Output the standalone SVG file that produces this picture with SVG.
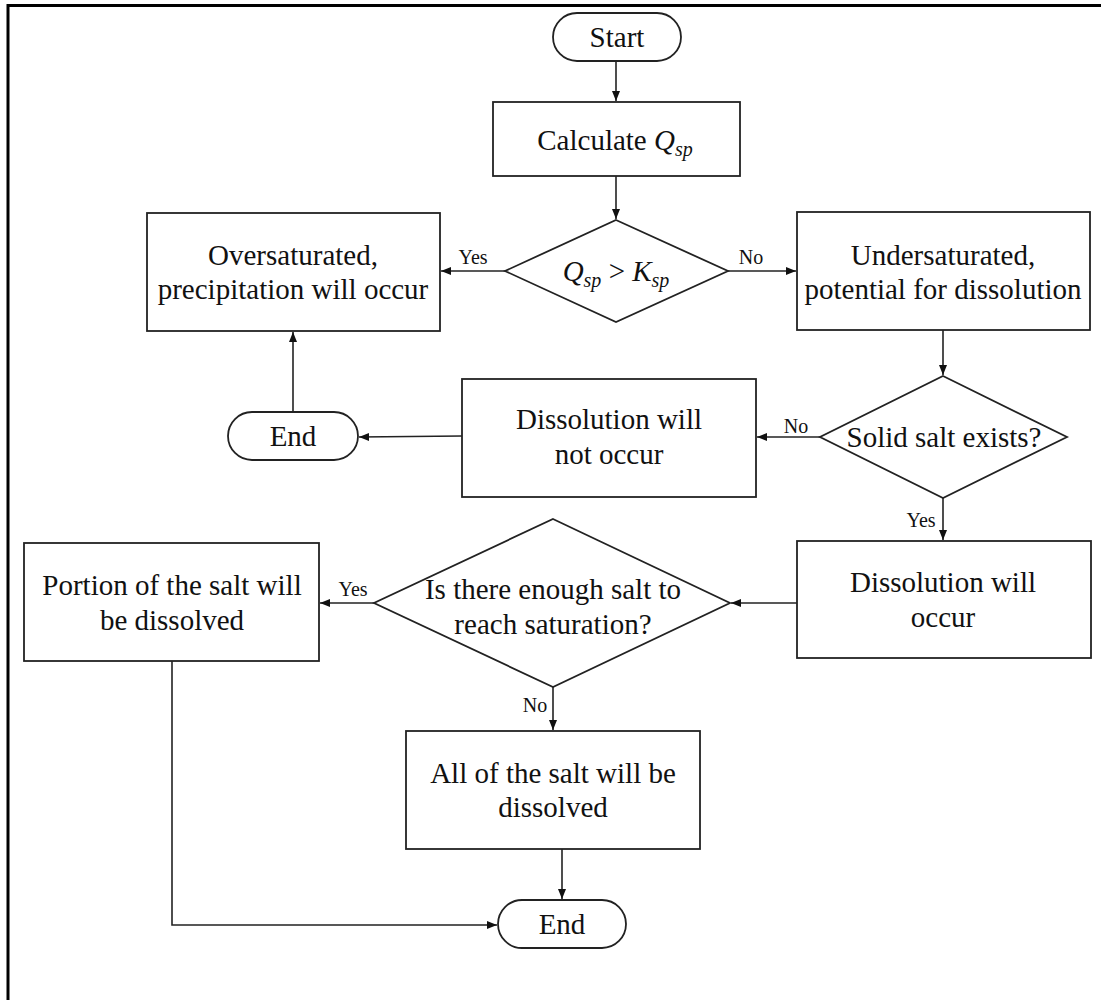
<svg xmlns="http://www.w3.org/2000/svg" width="1101" height="1000" viewBox="0 0 1101 1000">
<defs>
<style>
.box{fill:#fff;stroke:#222;stroke-width:1.8}
.t{font-family:"Liberation Serif","Times New Roman",serif;font-size:29px;fill:#111;text-anchor:middle}
.l{font-family:"Liberation Serif","Times New Roman",serif;font-size:20px;fill:#111;text-anchor:middle}
.c{fill:none;stroke:#222;stroke-width:1.6}
</style>
<marker id="ah" viewBox="0 0 10 10" refX="10" refY="5" markerWidth="10" markerHeight="10" markerUnits="userSpaceOnUse" orient="auto">
<path d="M0,1 L10,5 L0,9 z" fill="#111"/>
</marker>
</defs>
<rect width="1101" height="1000" fill="#fff"/>
<path d="M8,1000 V5.5 H1101" fill="none" stroke="#000" stroke-width="3"/>

<g id="start"><rect class="box" x="553" y="13" width="128" height="48" rx="24"/><text class="t" x="617" y="47">Start</text></g>
<g id="calc"><rect class="box" x="493" y="102" width="247" height="74"/><text class="t" x="615" y="150">Calculate <tspan font-style="italic">Q</tspan><tspan font-style="italic" font-size="20" dy="6">sp</tspan></text></g>
<g id="cmp"><polygon class="box" points="616,220 728,271 616,322 505,271"/><text class="t" x="616" y="281"><tspan font-style="italic">Q</tspan><tspan font-style="italic" font-size="20" dy="6">sp</tspan><tspan dy="-6"> &gt; </tspan><tspan font-style="italic">K</tspan><tspan font-style="italic" font-size="20" dy="6">sp</tspan></text></g>
<g id="over"><rect class="box" x="147" y="213" width="293" height="118"/><text class="t" x="293" y="265">Oversaturated,</text><text class="t" x="293" y="299">precipitation will occur</text></g>
<g id="under"><rect class="box" x="797" y="212" width="293" height="118"/><text class="t" x="943" y="265">Undersaturated,</text><text class="t" x="943" y="299">potential for dissolution</text></g>
<g id="end1"><rect class="box" x="228" y="412" width="130" height="48" rx="24"/><text class="t" x="293" y="446">End</text></g>
<g id="notdis"><rect class="box" x="462" y="379" width="294" height="118"/><text class="t" x="609" y="429">Dissolution will</text><text class="t" x="609" y="464">not occur</text></g>
<g id="solid"><polygon class="box" points="943,376 1067,437 943,498 820,437"/><text class="t" x="944" y="447">Solid salt exists?</text></g>
<g id="dis"><rect class="box" x="797" y="541" width="294" height="117"/><text class="t" x="943" y="592">Dissolution will</text><text class="t" x="943" y="627">occur</text></g>
<g id="enough"><polygon class="box" points="553,519 730,603 553,687 374,603"/><text class="t" x="553" y="599">Is there enough salt to</text><text class="t" x="553" y="634">reach saturation?</text></g>
<g id="portion"><rect class="box" x="24" y="543" width="295" height="118"/><text class="t" x="172" y="595">Portion of the salt will</text><text class="t" x="172" y="630">be dissolved</text></g>
<g id="all"><rect class="box" x="406" y="731" width="294" height="118"/><text class="t" x="553" y="783">All of the salt will be</text><text class="t" x="553" y="817">dissolved</text></g>
<g id="end2"><rect class="box" x="498" y="900" width="128" height="48" rx="24"/><text class="t" x="562" y="934">End</text></g>

<g id="connectors">
<line class="c" x1="616" y1="61" x2="616" y2="101" marker-end="url(#ah)"/>
<line class="c" x1="616" y1="176" x2="616" y2="219" marker-end="url(#ah)"/>
<line class="c" x1="505" y1="271" x2="441" y2="271" marker-end="url(#ah)"/>
<line class="c" x1="728" y1="271" x2="796" y2="271" marker-end="url(#ah)"/>
<line class="c" x1="943" y1="330" x2="943" y2="375" marker-end="url(#ah)"/>
<line class="c" x1="820" y1="437" x2="757" y2="437" marker-end="url(#ah)"/>
<line class="c" x1="462" y1="436" x2="359" y2="437" marker-end="url(#ah)"/>
<line class="c" x1="293" y1="412" x2="293" y2="332" marker-end="url(#ah)"/>
<line class="c" x1="943" y1="498" x2="943" y2="540" marker-end="url(#ah)"/>
<line class="c" x1="797" y1="603" x2="731" y2="603" marker-end="url(#ah)"/>
<line class="c" x1="374" y1="603" x2="320" y2="603" marker-end="url(#ah)"/>
<line class="c" x1="553" y1="687" x2="553" y2="730" marker-end="url(#ah)"/>
<polyline class="c" points="172,661 172,925 497,925" marker-end="url(#ah)"/>
<line class="c" x1="562" y1="849" x2="562" y2="899" marker-end="url(#ah)"/>
<text class="l" x="473" y="264">Yes</text>
<text class="l" x="751" y="264">No</text>
<text class="l" x="796" y="433">No</text>
<text class="l" x="921" y="527">Yes</text>
<text class="l" x="353" y="596">Yes</text>
<text class="l" x="535" y="712">No</text>
</g>
</svg>
